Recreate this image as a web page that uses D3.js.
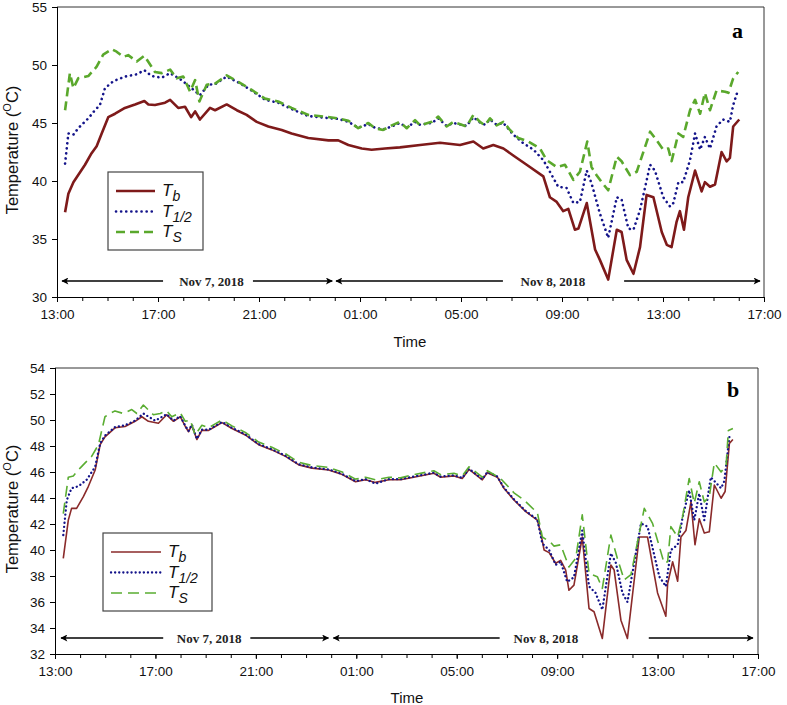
<!DOCTYPE html>
<html>
<head>
<meta charset="utf-8">
<script src="https://cdn.jsdelivr.net/npm/d3@7"></script>
<style>
  html, body { margin: 0; padding: 0; background: #fff; }
  svg { display: block; }
</style>
</head>
<body>
<svg id="chart" width="787" height="705"></svg>
<script>
// ---------- DATA (hours after 13:00 on Nov 7, 2018 ; temperature in °C) ----------
const xTickHours = [0, 4, 8, 12, 16, 20, 24, 28];
const xTickLabels = ["13:00", "17:00", "21:00", "01:00", "05:00", "09:00", "13:00", "17:00"];
const yTicksA = [30, 35, 40, 45, 50, 55];
const yTicksB = [32, 34, 36, 38, 40, 42, 44, 46, 48, 50, 52, 54];
const seriesNames = ["Tb", "T1/2", "Ts"];

// Panel a
const aTb = [[0.32,37.3],[0.45,38.9],[0.65,39.9],[1.11,41.4],[1.37,42.4],[1.57,43.0],[1.77,44.1],[2.03,45.5],[2.30,45.8],[2.69,46.3],[3.09,46.6],[3.46,46.9],[3.62,46.6],[3.88,46.55],[4.28,46.75],[4.48,47.0],[4.80,46.3],[5.07,46.4],[5.31,45.5],[5.47,46.0],[5.66,45.3],[6.06,46.3],[6.26,46.1],[6.72,46.6],[7.12,46.1],[7.51,45.7],[7.91,45.1],[8.37,44.7],[8.90,44.4],[9.29,44.1],[9.95,43.7],[10.75,43.5],[11.14,43.5],[11.54,43.1],[12.07,42.8],[12.46,42.7],[12.99,42.8],[13.58,42.9],[14.38,43.1],[15.17,43.3],[15.96,43.1],[16.49,43.4],[16.88,42.8],[17.28,43.1],[17.68,42.8],[18.07,42.2],[18.60,41.4],[19.26,40.4],[19.52,38.6],[19.79,38.2],[20.05,37.4],[20.25,37.6],[20.51,35.8],[20.65,35.9],[20.98,38.1],[21.31,34.1],[21.5,33.2],[21.83,31.5],[22.17,35.8],[22.36,35.6],[22.56,33.2],[22.83,32.0],[23.09,34.3],[23.35,38.8],[23.62,38.6],[23.95,35.6],[24.15,34.5],[24.34,34.3],[24.54,36.5],[24.67,37.4],[24.83,35.8],[25.0,38.6],[25.27,40.9],[25.53,39.1],[25.66,39.9],[25.86,39.5],[26.06,39.7],[26.32,42.5],[26.52,41.7],[26.65,42.0],[26.78,44.7],[27.02,45.3]];
const aThalf = [[0.32,41.5],[0.45,44.1],[0.65,44.0],[0.84,44.55],[1.24,45.4],[1.50,46.1],[1.70,46.55],[1.90,48.0],[2.23,48.6],[2.69,49.0],[3.16,49.2],[3.46,49.55],[3.75,49.05],[4.15,48.9],[4.48,49.3],[4.93,48.7],[5.33,48.0],[5.66,47.4],[6.0,48.3],[6.26,48.35],[6.72,49.0],[7.18,48.5],[7.71,47.8],[8.24,47.0],[8.76,46.75],[9.29,46.2],[9.95,45.6],[10.61,45.45],[11.14,45.35],[11.54,45.1],[11.93,44.6],[12.33,44.9],[12.59,44.6],[12.92,44.45],[13.26,44.7],[13.58,45.0],[13.85,44.6],[14.18,45.1],[14.38,44.85],[14.84,45.0],[15.10,45.4],[15.43,44.75],[15.70,45.0],[16.22,44.75],[16.49,45.5],[16.75,45.05],[16.95,44.85],[17.15,45.3],[17.41,44.85],[17.68,45.0],[18.07,44.0],[18.47,43.25],[18.87,42.7],[19.26,41.8],[19.52,40.8],[19.85,39.5],[20.18,39.4],[20.45,38.1],[20.71,38.2],[20.98,40.9],[21.17,39.8],[21.5,37.2],[21.83,35.1],[22.17,38.6],[22.36,38.4],[22.63,35.9],[22.83,35.8],[23.09,37.5],[23.49,41.4],[23.68,40.9],[24.01,38.6],[24.28,37.8],[24.41,38.1],[24.61,39.9],[24.80,39.9],[25.07,41.8],[25.27,44.1],[25.47,42.7],[25.66,43.8],[25.86,42.8],[26.12,44.7],[26.38,45.3],[26.65,45.1],[26.78,46.55],[26.98,47.9]];
const aTs = [[0.32,46.1],[0.51,49.3],[0.65,48.0],[0.84,48.85],[1.24,49.05],[1.57,49.85],[1.83,50.9],[2.17,51.35],[2.36,51.15],[2.63,50.7],[2.82,50.85],[3.16,50.3],[3.46,50.8],[3.88,49.4],[4.15,49.3],[4.48,49.6],[4.74,48.85],[5.0,49.0],[5.27,47.7],[5.47,48.7],[5.64,46.85],[5.93,48.3],[6.26,48.4],[6.72,49.1],[7.18,48.55],[7.71,47.85],[8.24,47.1],[8.76,46.85],[9.29,46.3],[9.95,45.7],[10.61,45.55],[11.14,45.4],[11.54,45.2],[11.93,44.55],[12.33,45.0],[12.59,44.55],[12.92,44.4],[13.26,44.8],[13.58,45.1],[13.85,44.55],[14.18,45.25],[14.38,44.8],[14.84,45.1],[15.10,45.55],[15.43,44.7],[15.70,45.1],[16.22,44.7],[16.49,45.7],[16.75,45.1],[16.95,44.8],[17.15,45.4],[17.41,44.8],[17.68,45.1],[17.94,44.4],[18.27,43.7],[18.67,43.4],[19.13,42.8],[19.39,41.8],[19.79,41.2],[20.12,41.4],[20.45,40.1],[20.71,40.8],[21.0,43.4],[21.17,41.2],[21.37,40.5],[21.57,39.9],[21.83,39.2],[22.17,42.1],[22.36,41.7],[22.69,40.5],[22.96,40.8],[23.49,44.25],[23.75,43.5],[24.01,42.7],[24.21,42.8],[24.34,41.7],[24.61,44.1],[24.80,43.8],[25.07,46.1],[25.27,47.0],[25.47,45.8],[25.66,47.6],[25.86,46.1],[26.12,47.8],[26.46,47.7],[26.59,47.6],[26.78,48.85],[26.98,49.4]];

// Panel b
const bTb = [[0.33,39.36],[0.53,42.3],[0.66,43.2],[0.86,43.2],[1.13,44.1],[1.33,44.9],[1.60,46.15],[1.80,48.1],[1.99,48.7],[2.39,49.4],[2.79,49.5],[3.19,49.9],[3.46,50.25],[3.72,49.9],[4.12,49.75],[4.45,50.4],[4.72,49.9],[4.99,50.25],[5.19,49.5],[5.32,49.1],[5.45,49.6],[5.65,48.5],[5.85,49.2],[6.12,49.2],[6.38,49.5],[6.65,49.8],[7.05,49.35],[7.58,48.85],[8.11,48.1],[8.64,47.7],[9.18,47.2],[9.71,46.55],[10.24,46.3],[10.90,46.15],[11.44,45.8],[11.97,45.25],[12.37,45.4],[12.76,45.2],[13.30,45.4],[13.76,45.4],[14.29,45.6],[15.09,45.9],[15.36,45.6],[15.89,45.7],[16.22,45.5],[16.49,46.2],[17.02,45.4],[17.22,45.95],[17.62,45.6],[17.88,44.75],[18.28,43.85],[18.75,42.95],[19.21,42.3],[19.35,41.3],[19.48,40.0],[19.68,39.8],[19.94,38.98],[20.14,39.2],[20.34,38.46],[20.47,36.9],[20.67,37.3],[21.0,41.0],[21.27,35.5],[21.47,35.25],[21.80,33.2],[22.14,38.85],[22.27,38.46],[22.54,34.6],[22.80,33.2],[23.27,41.0],[23.60,41.0],[24.0,36.7],[24.33,34.9],[24.40,37.4],[24.60,39.1],[24.80,37.6],[24.93,41.0],[25.13,41.5],[25.33,43.7],[25.49,40.4],[25.66,42.4],[25.86,41.3],[26.06,41.4],[26.26,45.0],[26.53,43.98],[26.69,44.5],[26.86,48.2],[27.0,48.5]];
const bThalf = [[0.33,41.15],[0.47,43.85],[0.66,44.75],[0.93,44.9],[1.26,45.4],[1.60,46.4],[1.80,48.2],[1.99,48.8],[2.39,49.45],[2.79,49.6],[3.19,49.95],[3.52,50.5],[3.99,49.95],[4.45,50.45],[4.72,49.95],[4.99,50.3],[5.19,49.55],[5.32,49.15],[5.45,49.65],[5.65,48.55],[5.85,49.25],[6.12,49.25],[6.38,49.55],[6.65,49.85],[7.05,49.4],[7.58,48.9],[8.11,48.15],[8.64,47.75],[9.18,47.25],[9.71,46.6],[10.24,46.35],[10.90,46.2],[11.44,45.85],[11.97,45.3],[12.37,45.45],[12.76,45.1],[13.30,45.45],[13.76,45.45],[14.29,45.65],[15.09,45.95],[15.36,45.65],[15.89,45.75],[16.22,45.55],[16.49,46.25],[17.02,45.45],[17.22,46.0],[17.62,45.65],[17.88,44.8],[18.28,43.9],[18.75,43.0],[19.21,42.35],[19.41,40.5],[19.68,40.0],[19.94,38.85],[20.14,39.1],[20.4,37.55],[20.67,37.9],[21.0,41.5],[21.27,37.2],[21.53,36.7],[21.8,35.4],[22.14,39.75],[22.34,39.0],[22.60,36.7],[22.80,36.0],[23.34,42.05],[23.60,41.8],[24.07,37.95],[24.33,37.2],[24.53,40.0],[24.8,40.4],[25.0,42.55],[25.26,44.6],[25.46,42.3],[25.66,44.35],[25.86,42.3],[26.12,45.6],[26.53,44.75],[26.66,45.3],[26.86,48.7],[27.0,48.6]];
const bTs = [[0.33,42.8],[0.53,45.6],[0.73,45.7],[1.0,46.3],[1.20,46.7],[1.46,47.2],[1.73,48.1],[1.99,50.25],[2.19,50.5],[2.39,50.7],[2.72,50.5],[3.06,50.8],[3.26,50.5],[3.52,51.15],[3.92,50.4],[4.19,50.5],[4.45,50.7],[4.65,50.25],[4.99,50.55],[5.19,49.9],[5.39,50.0],[5.58,48.85],[5.85,49.6],[6.12,49.4],[6.38,49.7],[6.65,50.0],[7.05,49.55],[7.58,49.05],[8.11,48.3],[8.64,47.9],[9.18,47.4],[9.71,46.75],[10.24,46.5],[10.90,46.35],[11.44,46.0],[11.97,45.45],[12.37,45.6],[12.76,45.4],[13.30,45.6],[13.76,45.55],[14.29,45.8],[15.09,46.1],[15.36,45.8],[15.89,45.9],[16.22,45.7],[16.49,46.4],[17.02,45.6],[17.22,46.1],[17.75,45.5],[18.28,44.4],[18.68,43.85],[19.08,43.1],[19.21,42.9],[19.41,41.0],[19.74,40.6],[19.87,40.3],[20.14,40.4],[20.47,38.7],[20.74,39.35],[21.0,42.7],[21.27,38.2],[21.60,37.95],[21.80,37.05],[22.14,41.15],[22.40,39.35],[22.67,37.7],[22.94,38.1],[23.47,43.2],[23.80,42.05],[24.26,39.0],[24.40,39.1],[24.53,41.8],[24.80,41.0],[25.0,42.6],[25.26,45.5],[25.46,43.6],[25.66,45.25],[25.86,43.7],[26.06,44.1],[26.26,46.7],[26.53,46.0],[26.73,46.5],[26.82,49.2],[27.0,49.35]];

// Date span annotations (hours): [left seg start, left seg end, label centre, right seg start, right seg end]
const dateLabels = ["Nov 7, 2018", "Nov 8, 2018"];
const dateSpansA = [[0.2, 4.2, 6.12, 7.76, 10.9], [11.05, 17.66, 19.64, 22.46, 27.84]];
const dateSpansB = [[0.24, 4.31, 6.14, 7.78, 10.89], [11.09, 17.71, 19.55, 23.65, 27.8]];

// ---------- DRAWING ----------
const svg = d3.select("#chart");
const defs = svg.append("defs");
defs.append("marker").attr("id", "arrowEnd").attr("viewBox", "0 0 10 10")
  .attr("refX", 9).attr("refY", 5).attr("markerWidth", 9).attr("markerHeight", 7)
  .attr("markerUnits", "userSpaceOnUse").attr("orient", "auto")
  .append("path").attr("d", "M0,0 L10,5 L0,10 L2.5,5 Z").attr("fill", "#000");
defs.append("marker").attr("id", "arrowStart").attr("viewBox", "0 0 10 10")
  .attr("refX", 1).attr("refY", 5).attr("markerWidth", 9).attr("markerHeight", 7)
  .attr("markerUnits", "userSpaceOnUse").attr("orient", "auto")
  .append("path").attr("d", "M10,0 L0,5 L10,10 L7.5,5 Z").attr("fill", "#000");

const sans = "'Liberation Sans', Arial, sans-serif";
const serif = "'Liberation Serif', 'Times New Roman', serif";

function drawPanel(cfg) {
  const x = d3.scaleLinear().domain([0, 28]).range([cfg.left, cfg.right]);
  const y = d3.scaleLinear().domain(cfg.yDomain).range([cfg.bottom, cfg.top]);
  const g = svg.append("g");

  // frame (top & right)
  g.append("path")
    .attr("d", `M${cfg.left},${cfg.top}H${cfg.right}V${cfg.bottom}`)
    .attr("fill", "none").attr("stroke", "#333").attr("stroke-width", 1);

  // x minor ticks
  g.append("g").attr("transform", `translate(0,${cfg.bottom})`)
    .call(d3.axisBottom(x).tickValues(d3.range(0, 29)).tickSize(4).tickFormat(""))
    .call(a => a.select(".domain").remove())
    .selectAll("line").attr("stroke", "#000");
  // x major axis
  const xa = g.append("g").attr("transform", `translate(0,${cfg.bottom})`)
    .call(d3.axisBottom(x).tickValues(xTickHours).tickSize(5).tickPadding(7)
      .tickFormat((d, i) => xTickLabels[i]));
  xa.select(".domain").attr("stroke", "#000").attr("d", `M${cfg.left},0.5H${cfg.right}`);
  xa.selectAll("text").attr("font-family", sans).attr("font-size", "13.5px").attr("fill", "#111");

  // y axis
  const ya = g.append("g").attr("transform", `translate(${cfg.left},0)`)
    .call(d3.axisLeft(y).tickValues(cfg.yTicks).tickSize(5).tickPadding(5));
  ya.select(".domain").attr("stroke", "#000").attr("d", `M0.5,${cfg.top}V${cfg.bottom}`);
  ya.selectAll("text").attr("font-family", sans).attr("font-size", "13.5px").attr("fill", "#111");

  // axis titles
  g.append("text").attr("x", cfg.timeX).attr("y", cfg.timeY)
    .attr("text-anchor", "middle").attr("font-family", sans).attr("font-size", "15px")
    .attr("fill", "#111").text("Time");
  const yt = g.append("text")
    .attr("transform", `translate(${cfg.yTitleX},${cfg.yTitleY}) rotate(-90)`)
    .attr("text-anchor", "middle").attr("font-family", sans).attr("font-size", "16.5px").attr("fill", "#111");
  yt.append("tspan").text("Temperature (");
  yt.append("tspan").attr("font-size", "11px").attr("dy", -7).text("O");
  yt.append("tspan").attr("dy", 7).text("C)");

  // panel letter
  g.append("text").attr("x", cfg.letterX).attr("y", cfg.letterY)
    .attr("font-family", serif).attr("font-weight", "bold").attr("font-size", "22px")
    .attr("fill", "#000").text(cfg.letter);

  // series
  const line = d3.line().x(d => x(d[0])).y(d => y(d[1]));
  const clip = "clip-" + cfg.letter;
  defs.append("clipPath").attr("id", clip).append("rect")
    .attr("x", cfg.left).attr("y", cfg.top).attr("width", cfg.right - cfg.left).attr("height", cfg.bottom - cfg.top);
  const lg = g.append("g").attr("clip-path", `url(#${clip})`);
  cfg.series.forEach(s => {
    lg.append("path").datum(s.data).attr("d", line)
      .attr("fill", "none").attr("stroke", s.color).attr("stroke-width", s.width)
      .attr("stroke-dasharray", s.dash).attr("stroke-linecap", s.cap).attr("stroke-linejoin", "round");
  });

  // date arrows
  cfg.spans.forEach((sp, i) => {
    const yy = cfg.arrowY;
    g.append("line").attr("x1", x(sp[0])).attr("x2", x(sp[1])).attr("y1", yy).attr("y2", yy)
      .attr("stroke", "#000").attr("stroke-width", 1.6).attr("marker-start", "url(#arrowStart)");
    g.append("line").attr("x1", x(sp[3])).attr("x2", x(sp[4])).attr("y1", yy).attr("y2", yy)
      .attr("stroke", "#000").attr("stroke-width", 1.6).attr("marker-end", "url(#arrowEnd)");
    g.append("text").attr("x", x(sp[2])).attr("y", yy + 4.5).attr("text-anchor", "middle")
      .attr("font-family", serif).attr("font-weight", "bold").attr("font-size", "13px")
      .attr("fill", "#222").text(dateLabels[i]);
  });

  // legend
  const L = cfg.legend;
  g.append("rect").attr("x", L.x).attr("y", L.y).attr("width", L.w).attr("height", L.h)
    .attr("fill", "#fff").attr("stroke", "#444").attr("stroke-width", 1.2);
  const subs = ["b", "1/2", "S"];
  cfg.series.forEach((s, i) => {
    const ry = L.y + L.rowY0 + i * L.rowGap;
    g.append("line").attr("x1", L.x + 8).attr("x2", L.x + 8 + L.lineLen).attr("y1", ry).attr("y2", ry)
      .attr("stroke", s.color).attr("stroke-width", s.width)
      .attr("stroke-dasharray", s.dash).attr("stroke-linecap", s.cap);
    const t = g.append("text").attr("x", L.x + 15 + L.lineLen).attr("y", ry + 5)
      .attr("font-family", sans).attr("font-style", "italic").attr("font-size", "17px").attr("fill", "#111");
    t.append("tspan").text("T");
    t.append("tspan").attr("font-size", "14px").attr("dy", 5).text(subs[i]);
  });
}

drawPanel({
  letter: "a", left: 57, right: 764, top: 7, bottom: 297,
  yDomain: [30, 55], yTicks: yTicksA,
  timeX: 410, timeY: 347, yTitleX: 18, yTitleY: 150, letterX: 732, letterY: 38,
  arrowY: 281, spans: dateSpansA,
  legend: { x: 108, y: 172, w: 95, h: 78, rowY0: 19, rowGap: 20.5, lineLen: 39 },
  series: [
    { name: seriesNames[0], data: aTb, color: "#7e1a1a", width: 2.6, dash: null, cap: "butt" },
    { name: seriesNames[1], data: aThalf, color: "#14148a", width: 2.6, dash: "0.1 5", cap: "round" },
    { name: seriesNames[2], data: aTs, color: "#5aa82c", width: 2.6, dash: "9 5", cap: "butt" }
  ]
});

drawPanel({
  letter: "b", left: 55, right: 758, top: 368, bottom: 654,
  yDomain: [32, 54], yTicks: yTicksB,
  timeX: 407, timeY: 703, yTitleX: 18, yTitleY: 509, letterX: 727, letterY: 397,
  arrowY: 638, spans: dateSpansB,
  legend: { x: 103, y: 533, w: 109, h: 78, rowY0: 19, rowGap: 20.5, lineLen: 50 },
  series: [
    { name: seriesNames[0], data: bTb, color: "#8a2a2a", width: 1.6, dash: null, cap: "butt" },
    { name: seriesNames[1], data: bThalf, color: "#14148a", width: 2.3, dash: "0.1 4", cap: "round" },
    { name: seriesNames[2], data: bTs, color: "#5aad32", width: 1.6, dash: "11 6", cap: "butt" }
  ]
});
</script>
</body>
</html>
